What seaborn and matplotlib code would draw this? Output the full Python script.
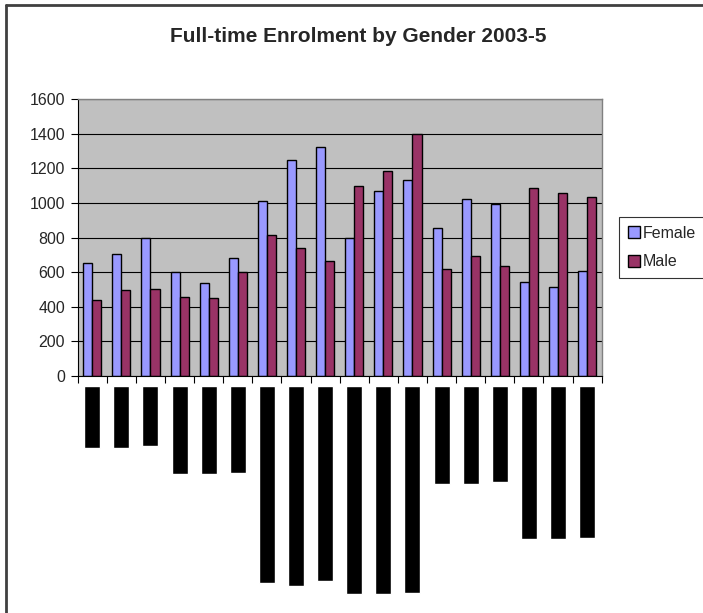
import numpy as np
import pandas as pd
import matplotlib
matplotlib.use("Agg")
import matplotlib.pyplot as plt
import seaborn as sns

# values (18 unlabeled categories)
categories = [f"c{i}" for i in range(1, 19)]
female = [655, 704, 796, 600, 536, 684, 1014, 1247, 1322,
          800, 1070, 1135, 854, 1024, 997, 544, 515, 609]
male = [440, 497, 505, 459, 449, 600, 815, 742, 665,
        1097, 1184, 1401, 619, 694, 638, 1089, 1060, 1033]
# the category labels are blacked out in the reference; keep their lengths
label_lengths = [62, 62, 60, 88, 88, 87, 197, 200, 195,
                 208, 208, 207, 98, 98, 96, 153, 153, 152]

df = pd.DataFrame({
    "Category": categories * 2,
    "Enrolment": female + male,
    "Gender": ["Female"] * 18 + ["Male"] * 18,
})
labels_df = pd.DataFrame({"Category": categories, "Length": label_lengths})

sns.set_style("white")
plt.rcParams["font.family"] = ["Liberation Sans", "DejaVu Sans"]

W, H = 703, 613
fig = plt.figure(figsize=(W / 100, H / 100), dpi=100)

def px_axes(x0, y0, x1, y1):
    return fig.add_axes([x0 / W, 1 - y1 / H, (x1 - x0) / W, (y1 - y0) / H])

ax = px_axes(77.7, 99.3, 601.7, 376)
ax.set_facecolor("#C0C0C0")
sns.barplot(data=df, x="Category", y="Enrolment", hue="Gender",
            palette={"Female": "#9999FF", "Male": "#993366"},
            width=0.62, gap=0, edgecolor="black", linewidth=1.0,
            saturation=1, ax=ax, legend=True)
ax.set_xlim(-0.5, 17.5)
ax.set_ylim(0, 1600)
ax.set_yticks(np.arange(0, 1601, 200))
ax.yaxis.grid(True, color="black", linewidth=0.8)
ax.set_axisbelow(True)
ax.set_xticks(np.arange(-0.5, 18, 1))
ax.set_xticklabels([])
ax.set_xlabel("")
ax.set_ylabel("")
ax.tick_params(axis="both", direction="out", length=5, width=0.8,
               color="black", labelsize=11.5, pad=4, left=True, bottom=True)
for side in ["left", "bottom"]:
    ax.spines[side].set_color("black")
    ax.spines[side].set_linewidth(0.8)
for side in ["top", "right"]:
    ax.spines[side].set_color("#808080")
    ax.spines[side].set_linewidth(1.0)

handles, labs = ax.get_legend_handles_labels()
ax.get_legend().remove()
leg = fig.legend(handles, labs, loc="upper left",
                 bbox_to_anchor=(619 / W, 1 - 217 / H),
                 frameon=True, fancybox=False, fontsize=11.5,
                 handlelength=0.75, handleheight=0.75, handletextpad=0.2,
                 labelspacing=0.85, borderpad=0.55, borderaxespad=0)
leg.get_frame().set_edgecolor("black")
leg.get_frame().set_linewidth(0.8)
for h in leg.legend_handles:
    h.set_edgecolor("black")

# blacked-out category labels below the axis
lax = px_axes(77.7, 386, 601.7, 613)
sns.barplot(data=labels_df, x="Category", y="Length", color="black",
            saturation=1, width=0.55, ax=lax)
lax.set_xlim(-0.5, 17.5)
lax.set_ylim(227, 0)
lax.axis("off")

fig.text(358 / W, 1 - 36 / H, "Full-time Enrolment by Gender 2003-5",
         ha="center", va="center", fontsize=15, fontweight="bold")

# chart border (left/top visible in the crop)
fig.add_artist(plt.Line2D([6 / W, 6 / W], [0, 1 - 5 / H], color="#404040", linewidth=2))
fig.add_artist(plt.Line2D([6 / W, 1], [1 - 5 / H, 1 - 5 / H], color="#404040", linewidth=2))

fig.savefig("out.png", dpi=100, facecolor="white")
